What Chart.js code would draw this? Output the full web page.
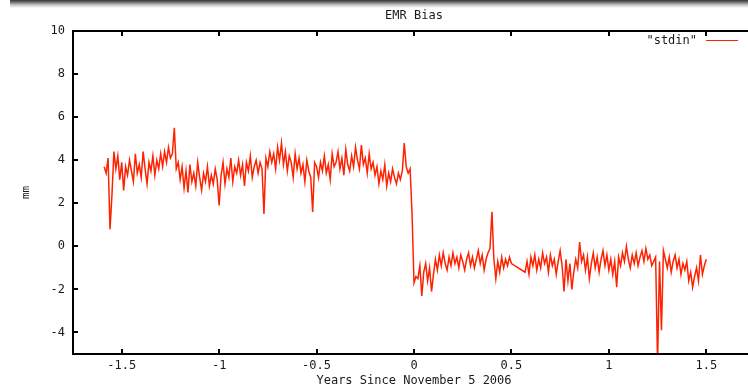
<!DOCTYPE html>
<html>
<head>
<meta charset="utf-8">
<script src="https://cdn.jsdelivr.net/npm/chart.js@4.4.1/dist/chart.umd.min.js"></script>
<style>
  html, body { margin: 0; padding: 0; background: #fff; overflow: hidden; }
  #wrap { position: relative; width: 748px; height: 391px; overflow: hidden; }
  #bar { position: absolute; left: 10px; right: 0; top: 0; height: 8px;
         background: linear-gradient(to bottom, #333 0%, #777 30%, #ccc 65%, #fff 100%); }
  canvas { position: absolute; left: 0; top: 0; }
</style>
</head>
<body>
<div id="wrap">
  <canvas id="chart" width="760" height="391"></canvas>
  <div id="bar"></div>
</div>
<script>
// sampling of the record (years since Nov 5 2006)
var startYear = -1.59;
var stepYears = 0.01;

// EMR bias in mm, one value per step
var biasBefore = [
  3.7, 3.4, 4.1, 0.8, 2.4, 4.4, 3.6, 4.2, 3.1, 3.9,
  2.6, 3.7, 3.3, 4.0, 3.5, 3.0, 4.3, 3.4, 3.8, 3.2,
  4.4, 3.6, 2.9, 3.9, 3.5, 4.2, 3.3, 4.0, 3.6, 4.3,
  3.7, 4.4, 3.9, 4.6, 4.1, 4.3, 5.5, 3.6, 3.9, 3.1,
  3.7, 2.7, 3.5, 2.5, 3.8, 3.0, 3.4, 2.8, 3.9, 3.2,
  2.6, 3.4, 3.0, 3.7, 2.8, 3.3, 2.9, 3.6, 3.1, 1.9,
  3.3, 3.9, 2.9, 3.6, 3.2, 4.1, 3.0, 3.7, 3.4, 4.0,
  3.3, 3.8, 2.8, 3.9, 3.5, 4.2, 3.2, 3.7, 4.0, 3.4,
  3.9, 3.6, 1.5, 4.1, 3.7, 4.4, 3.9, 4.3, 3.6, 4.6,
  4.0, 4.8, 3.8, 4.4, 3.5, 4.2, 3.9, 3.2, 4.3, 3.6,
  4.1, 3.4, 3.8, 3.0, 4.0, 3.5, 3.2, 1.6, 3.9, 3.7,
  3.2, 3.9, 3.5, 4.2, 3.4, 3.8, 3.1, 4.3, 3.7, 3.9,
  4.4, 3.6, 4.1, 3.3, 4.5, 3.8, 3.5, 4.2, 3.7, 4.6,
  4.0, 3.6, 4.7, 3.8, 4.1, 3.4, 4.3, 3.6, 3.9, 3.3,
  3.7, 2.9, 3.5, 3.1, 3.8, 2.8, 3.4, 3.0, 3.6, 3.2,
  2.9, 3.4, 3.1, 3.5, 4.8, 3.7, 3.4, 3.6, 1.5
];

var biasAfter = [
  -1.7,
  -1.4, -1.5, -0.9, -2.3, -1.2, -0.8, -1.6, -1.0, -2.1, -1.3,
  -0.6, -1.1, -0.4, -0.9, -0.3, -0.8, -1.1, -0.5, -0.9, -0.3,
  -0.8, -0.5, -1.0, -0.4, -0.7, -1.1, -0.6, -0.3, -0.9, -0.5,
  -1.0, -0.6, -0.2, -0.8, -0.4, -1.1, -0.6, -0.3, -0.1, 1.6,
  -0.6, -1.5, -0.7, -1.2, -0.5, -1.0, -0.6, -0.9, -0.5, -0.8,
  null, null, null, null, null, null, -1.2, -0.7, -1.3, -0.5,
  -0.9, -0.4, -1.1, -0.6, -1.0, -0.3, -0.8, -0.5, -1.2, -0.4,
  -0.9, -0.6, -1.3, -0.7, -0.2, -0.9, -2.1, -0.6, -1.6, -0.8,
  -2.0, -1.2, -0.6, -1.0, 0.2, -0.7, -0.4, -1.1, -0.5, -1.5,
  -0.8, -0.3, -1.0, -0.5, -1.2, -0.6, -0.2, -0.9, -0.4, -1.1,
  -0.6, -1.3, -0.7, -1.9, -0.5, -0.9, -0.3, -0.7, 0.0, -0.6,
  -1.0, -0.4, -0.8, -0.3, -0.9, -0.5, -0.2, -0.7, -0.1, -0.6,
  -0.4, -0.9, -0.7, -0.5, -5.4, -0.7, -3.9, -0.2, -0.6, -1.0,
  -0.5, -1.2, -0.7, -0.4, -1.0, -0.6, -1.3, -0.8, -1.1, -0.7,
  -1.6, -1.2, -1.9, -1.4, -1.0, -1.6, -0.4, -1.3, -0.9, -0.6
];

var xTicks = [-1.5, -1, -0.5, 0, 0.5, 1, 1.5];
var yTicks = [-4, -2, 0, 2, 4, 6, 8, 10];

var FONT = '"DejaVu Sans Mono", monospace';
var TEXT = '#1a1a1a';
var RED = '#ff2200';

var values = biasBefore.concat(biasAfter);
var points = [];
for (var i = 0; i < values.length; ++i) {
  points.push({ x: startYear + i * stepYears, y: values[i] });
}

// gnuplot look: full frame, inward ticks, title and key inside the plot
var gnuplotFrame = {
  id: 'gnuplotFrame',
  afterDraw: function (chart) {
    var ctx = chart.ctx;
    var a = chart.chartArea;
    var xs = chart.scales.x, ys = chart.scales.y;
    var k, p;
    ctx.save();
    ctx.strokeStyle = '#000';
    ctx.lineWidth = 2;
    ctx.strokeRect(a.left, a.top, a.right - a.left, a.bottom - a.top);
    ctx.beginPath();
    for (k = 0; k < xTicks.length; ++k) {
      p = Math.round(xs.getPixelForValue(xTicks[k]));
      ctx.moveTo(p, a.bottom); ctx.lineTo(p, a.bottom - 5);
      ctx.moveTo(p, a.top); ctx.lineTo(p, a.top + 5);
    }
    for (k = 0; k < yTicks.length; ++k) {
      p = Math.round(ys.getPixelForValue(yTicks[k]));
      ctx.moveTo(a.left, p); ctx.lineTo(a.left + 5, p);
      ctx.moveTo(a.right, p); ctx.lineTo(a.right - 5, p);
    }
    ctx.stroke();

    ctx.fillStyle = TEXT;
    ctx.font = '12px ' + FONT;
    ctx.textBaseline = 'middle';
    ctx.textAlign = 'center';
    ctx.fillText('EMR Bias', (a.left + a.right) / 2, 16);

    ctx.textAlign = 'right';
    ctx.fillText('"stdin"', 697, 41);
    ctx.strokeStyle = RED;
    ctx.lineWidth = 1;
    ctx.beginPath();
    ctx.moveTo(706, 40.5); ctx.lineTo(738, 40.5);
    ctx.stroke();
    ctx.restore();
  }
};

var chart = new Chart(document.getElementById('chart').getContext('2d'), {
  type: 'line',
  data: {
    datasets: [{
      label: 'stdin',
      data: points,
      borderColor: RED,
      borderWidth: 1.5,
      pointRadius: 0,
      tension: 0,
      spanGaps: true,
      fill: false
    }]
  },
  options: {
    responsive: false,
    animation: false,
    layout: { padding: { top: 31, left: 0, right: 5, bottom: 0 } },
    plugins: {
      legend: { display: false },
      title: { display: false },
      tooltip: { enabled: false }
    },
    scales: {
      x: {
        type: 'linear',
        min: -1.75,
        max: 1.75,
        grid: { display: false, drawTicks: false },
        border: { display: false },
        afterBuildTicks: function (s) { s.ticks = xTicks.map(function (v) { return { value: v }; }); },
        afterFit: function (s) { s.height = 37; },
        ticks: {
          color: TEXT, font: { family: FONT, size: 12 }, padding: 5, maxRotation: 0,
          callback: function (v) { return String(v); }
        },
        title: {
          display: true, text: 'Years Since November 5 2006', color: TEXT,
          font: { family: FONT, size: 12 }, padding: { top: 0, bottom: 3 }
        }
      },
      y: {
        min: -5,
        max: 10,
        grid: { display: false, drawTicks: false },
        border: { display: false },
        afterBuildTicks: function (s) { s.ticks = yTicks.map(function (v) { return { value: v }; }); },
        afterFit: function (s) { s.width = 73; },
        ticks: {
          color: TEXT, font: { family: FONT, size: 12 }, padding: 8,
          callback: function (v) { return String(v); }
        },
        title: {
          display: true, text: 'mm', color: TEXT,
          font: { family: FONT, size: 11 }, padding: { top: 20, bottom: 0 }
        }
      }
    }
  },
  plugins: [gnuplotFrame]
});
</script>
</body>
</html>
